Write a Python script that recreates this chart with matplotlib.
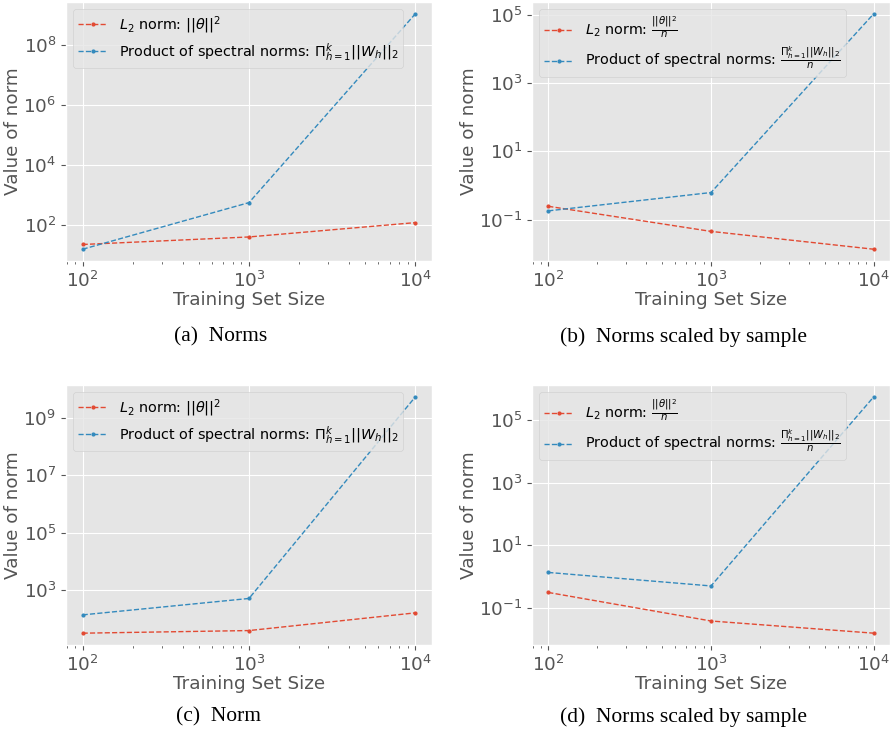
import matplotlib
matplotlib.use("Agg")
import matplotlib.pyplot as plt
from matplotlib.ticker import NullLocator

plt.style.use("ggplot")

# training set sizes
sizes = [100, 1000, 10000]

# run 1: raw norms and norms divided by n
l2_a = [23, 41, 123]
spec_a = [16, 570, 1.1e9]
l2_b = [0.245, 0.045, 0.0135]
spec_b = [0.18, 0.62, 1.08e5]

# run 2
l2_c = [31.6, 39, 161]
spec_c = [137, 510, 5.3e9]
l2_d = [0.31, 0.038, 0.0155]
spec_d = [1.35, 0.50, 5.5e5]

yticks_a = [1e2, 1e4, 1e6, 1e8]
yticks_b = [1e-1, 1e1, 1e3, 1e5]
yticks_c = [1e3, 1e5, 1e7, 1e9]
yticks_d = [1e-1, 1e1, 1e3, 1e5]

lab_l2 = r"$L_2$ norm: $||\theta||^2$"
lab_spec = r"Product of spectral norms: $\Pi_{h=1}^k||W_h||_2$"
lab_l2_n = r"$L_2$ norm: $\frac{||\theta||^2}{n}$"
lab_spec_n = r"Product of spectral norms: $\frac{\Pi_{h=1}^k||W_h||_2}{n}$"

captions = ["(a)  Norms", "(b)  Norms scaled by sample",
            "(c)  Norm", "(d)  Norms scaled by sample"]

W, H = 891, 736
fig = plt.figure(figsize=(W / 100, H / 100), dpi=100)


def px_axes(left, top, right, bottom):
    return fig.add_axes([left / W, 1 - bottom / H, (right - left) / W, (bottom - top) / H])


def panel(ax, l2, spec, yticks, l2_label, spec_label):
    ax.plot(sizes, l2, "--", marker=".", ms=4, lw=1, color="#E24A33", label=l2_label)
    ax.plot(sizes, spec, "--", marker=".", ms=4, lw=1, color="#348ABD", label=spec_label)
    ax.set_xscale("log")
    ax.set_yscale("log")
    ax.set_yticks(yticks)
    ax.yaxis.set_minor_locator(NullLocator())
    ax.tick_params(labelsize=13.2)
    ax.set_xlabel("Training Set Size", fontsize=13.2, labelpad=0)
    ax.set_ylabel("Value of norm", fontsize=13.2, labelpad=1)
    ax.legend(loc="upper left", fontsize=10.4, handlelength=2.0,
              labelspacing=0.35, borderpad=0.35)


ax_a = px_axes(66, 2, 432, 261)
ax_b = px_axes(532, 2, 890, 261)
ax_c = px_axes(66, 385, 432, 645)
ax_d = px_axes(532, 385, 890, 645)

panel(ax_a, l2_a, spec_a, yticks_a, lab_l2, lab_spec)
panel(ax_b, l2_b, spec_b, yticks_b, lab_l2_n, lab_spec_n)
panel(ax_c, l2_c, spec_c, yticks_c, lab_l2, lab_spec)
panel(ax_d, l2_d, spec_d, yticks_d, lab_l2_n, lab_spec_n)

cap_pos = [(221, 337), (683, 337), (218, 717), (683, 717)]
for (cx, cy), text in zip(cap_pos, captions):
    fig.text(cx / W, 1 - cy / H, text, ha="center", va="center",
             fontsize=15.5, family="Liberation Serif", color="black")

fig.savefig("out.png", dpi=100)
